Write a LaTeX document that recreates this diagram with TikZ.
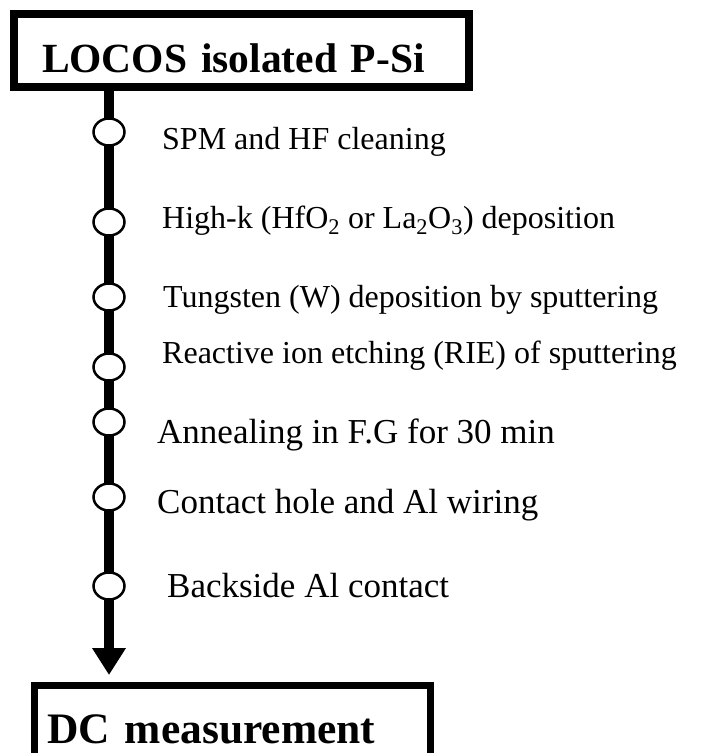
\documentclass[tikz,border=0pt]{standalone}
\usepackage{fontspec}
\setmainfont{Liberation Serif}
\usepackage{tikz}
\usetikzlibrary{shapes.geometric, arrows.meta, positioning}

\begin{document}
\begin{tikzpicture}[x=1pt, y=-1pt,
  titlebox/.style={draw, line width=7.5pt, outer sep=0pt, inner ysep=0pt,
    align=left, font=\fontsize{41.5}{50}\selectfont\bfseries},
  stepdot/.style={ellipse, draw, line width=2.5pt, fill=white,
    minimum width=31pt, minimum height=27pt, inner sep=0pt},
  steptext/.style={inner sep=0pt, anchor=base west, font=\fontsize{32}{38}\selectfont},
  bigtext/.style={steptext, font=\fontsize{35}{42}\selectfont},
  spine/.style={line width=10pt, -{Triangle[length=27pt, width=32pt]}}]
  \useasboundingbox (0,0) rectangle (727,753);
  % boxes
  \node[titlebox, anchor=north west, text width=399pt, inner xsep=28pt,
    text height=58pt, text depth=15pt] (locos) at (14,14) {LOCOS isolated P-Si};
  \node[titlebox, anchor=north west, text width=370pt, inner xsep=13pt,
    text height=58pt, text depth=30pt, font=\fontsize{43.5}{50}\selectfont\bfseries]
    (dc) at (34.5,685.5) {DC measurement};
  % main line
  \coordinate (spinetop) at (109,87);
  \draw[spine, shorten >=10.5pt] (spinetop) -- (spinetop |- dc.north);
  % process steps
  \node[stepdot] (c1) at (109,132) {};
  \node[stepdot] (c2) at (109,222) {};
  \node[stepdot] (c3) at (109,297) {};
  \node[stepdot] (c4) at (109,367) {};
  \node[stepdot] (c5) at (109,422) {};
  \node[stepdot] (c6) at (109,497) {};
  \node[stepdot] (c7) at (109,586) {};
  \node[steptext] (spm) at (162,149) {SPM and HF cleaning};
  \node[steptext] (highk) at (162,228) {High-k (HfO\textsubscript{2} or La\textsubscript{2}O\textsubscript{3}) deposition};
  \node[steptext] (tungsten) at (163,307) {Tungsten (W) deposition by sputtering};
  \node[steptext] (rie) at (162,363) {Reactive ion etching (RIE) of sputtering};
  \node[bigtext] (anneal) at (157,443) {Annealing in F.G for 30 min};
  \node[bigtext] (contact) at (157,513) {Contact hole and Al wiring};
  \node[bigtext] (backside) at (167,597) {Backside Al contact};
\end{tikzpicture}
\end{document}
